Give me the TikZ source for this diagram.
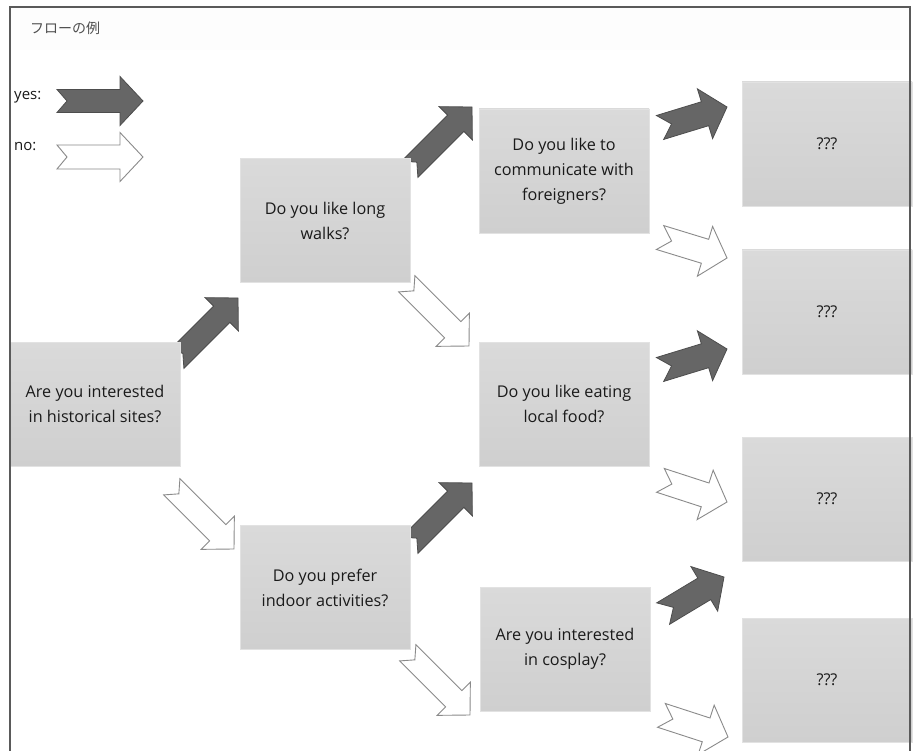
\documentclass[tikz,border=0pt]{standalone}
\usepackage{fontspec}
\setmainfont{Open Sans}
\newfontfamily\jpfont{Noto Sans CJK JP}
\usetikzlibrary{calc}
\definecolor{framegray}{HTML}{5A5A5A}
\definecolor{yesfill}{HTML}{666666}
\definecolor{yesdraw}{HTML}{4D4D4D}
\definecolor{nodraw}{HTML}{8A8A8A}
\definecolor{boxtop}{HTML}{DADADA}
\definecolor{boxbot}{HTML}{CFCFCF}
\definecolor{boxline}{HTML}{E2E2E2}
\definecolor{titlegray}{HTML}{505050}
\definecolor{textblack}{HTML}{1A1A1A}
\newcommand\blockarr[7]{%
  \path ($(#3)!#6!(#2)$) coordinate (bHB);
  \draw[#1] ($(#2)!#4!90:(#3)$) -- ($(bHB)!#4!90:(#3)$) -- ($(bHB)!#5!90:(#3)$) -- (#3)
    -- ($(bHB)!#5!-90:(#3)$) -- ($(bHB)!#4!-90:(#3)$) -- ($(#2)!#4!-90:(#3)$) -- ($(#2)!#7!(#3)$) -- cycle;}
\tikzset{
  qbox/.style={rectangle, minimum width=170pt, minimum height=124pt, inner sep=0pt,
    top color=boxtop, bottom color=boxbot, draw=boxline, line width=0.8pt,
    align=center, text=textblack, font=\fontsize{16.2}{25}\selectfont},
  yesarr/.style={fill=yesfill, draw=yesdraw, line width=0.8pt, line join=miter},
  noarr/.style={fill=white, draw=nodraw, line width=0.9pt, line join=miter},
  legtext/.style={anchor=west, text=textblack, font=\fontsize{15}{15}\selectfont, inner sep=0pt}
}
\begin{document}
\begin{tikzpicture}[x=1pt, y=-1pt]
\useasboundingbox (0,0) rectangle (915,751);
\fill[white] (0,0) rectangle (915,751);
% faint title band
\fill[gray!1.5] (10,8) rectangle (910,50);
\node[anchor=west, inner sep=0pt, text=titlegray, font=\jpfont\fontsize{14}{14}\selectfont] (title) at (30,28) {フローの例};
% legend
\node[legtext] (yeslbl) at (14,97) {yes:};
\node[legtext] (nolbl) at (14,146) {no:};
\coordinate (lys) at (57,101); \coordinate (lye) at (143,101);
\coordinate (lns) at (57,157); \coordinate (lne) at (143,157);
\blockarr{yesarr}{lys}{lye}{11.5pt}{24.5pt}{23pt}{10pt}
\blockarr{noarr}{lns}{lne}{12pt}{24.5pt}{23pt}{10pt}
% arrow tips and tails
\coordinate (t1) at (238,298); \coordinate (s1) at ($(t1)+(225:88pt)$);
\coordinate (t2) at (234,549); \coordinate (s2) at ($(t2)+(135:88pt)$);
\coordinate (t3) at (472,107); \coordinate (s3) at ($(t3)+(225:88pt)$);
\coordinate (t4) at (469,346); \coordinate (s4) at ($(t4)+(135:88pt)$);
\coordinate (t5) at (472,483); \coordinate (s5) at ($(t5)+(225:88pt)$);
\coordinate (t6) at (470,715); \coordinate (s6) at ($(t6)+(135:88pt)$);
\coordinate (t7) at (727,107); \coordinate (s7) at ($(t7)+(197:70pt)$);
\coordinate (t8) at (727,258); \coordinate (s8) at ($(t8)+(163:70pt)$);
\coordinate (t9) at (727,349); \coordinate (s9) at ($(t9)+(197:70pt)$);
\coordinate (t10) at (727,502); \coordinate (s10) at ($(t10)+(162:70pt)$);
\coordinate (t11) at (724,577); \coordinate (s11) at ($(t11)+(211:71pt)$);
\coordinate (t12) at (728,737); \coordinate (s12) at ($(t12)+(162:70pt)$);
\blockarr{yesarr}{s1}{t1}{11.5pt}{23.5pt}{23pt}{10pt}
\blockarr{noarr}{s2}{t2}{11.5pt}{23.5pt}{23pt}{10pt}
\blockarr{yesarr}{s3}{t3}{11.5pt}{23.5pt}{23pt}{10pt}
\blockarr{noarr}{s4}{t4}{11.5pt}{23.5pt}{23pt}{10pt}
\blockarr{yesarr}{s5}{t5}{11.5pt}{23.5pt}{23pt}{10pt}
\blockarr{noarr}{s6}{t6}{11.5pt}{23.5pt}{23pt}{10pt}
\blockarr{yesarr}{s7}{t7}{12.5pt}{26pt}{23pt}{12pt}
\blockarr{noarr}{s8}{t8}{12.5pt}{26pt}{23pt}{12pt}
\blockarr{yesarr}{s9}{t9}{12.5pt}{26pt}{23pt}{12pt}
\blockarr{noarr}{s10}{t10}{12.5pt}{26pt}{23pt}{12pt}
\blockarr{yesarr}{s11}{t11}{12.5pt}{26pt}{23pt}{12pt}
\blockarr{noarr}{s12}{t12}{12.5pt}{26pt}{23pt}{12pt}
% boxes
\node[qbox] (A) at (95,404) {Are you interested\\in historical sites?};
\node[qbox] (B) at (325,220.5) {Do you like long\\walks?};
\node[qbox] (C) at (325,587.5) {Do you prefer\\indoor activities?};
\node[qbox] (D) at (564,171) {Do you like to\\communicate with\\foreigners?};
\node[qbox] (E) at (564,404) {Do you like eating\\local food?};
\node[qbox] (F) at (565,649) {Are you interested\\in cosplay?};
\node[qbox] (Q1) at (827,144) {???};
\node[qbox] (Q2) at (827,312) {???};
\node[qbox] (Q3) at (827,499) {???};
\node[qbox] (Q4) at (827,680) {???};
% frame
\draw[framegray, line width=1.8pt] (10,751) -- (10,7) -- (910,7) -- (910,751);
\end{tikzpicture}
\end{document}
